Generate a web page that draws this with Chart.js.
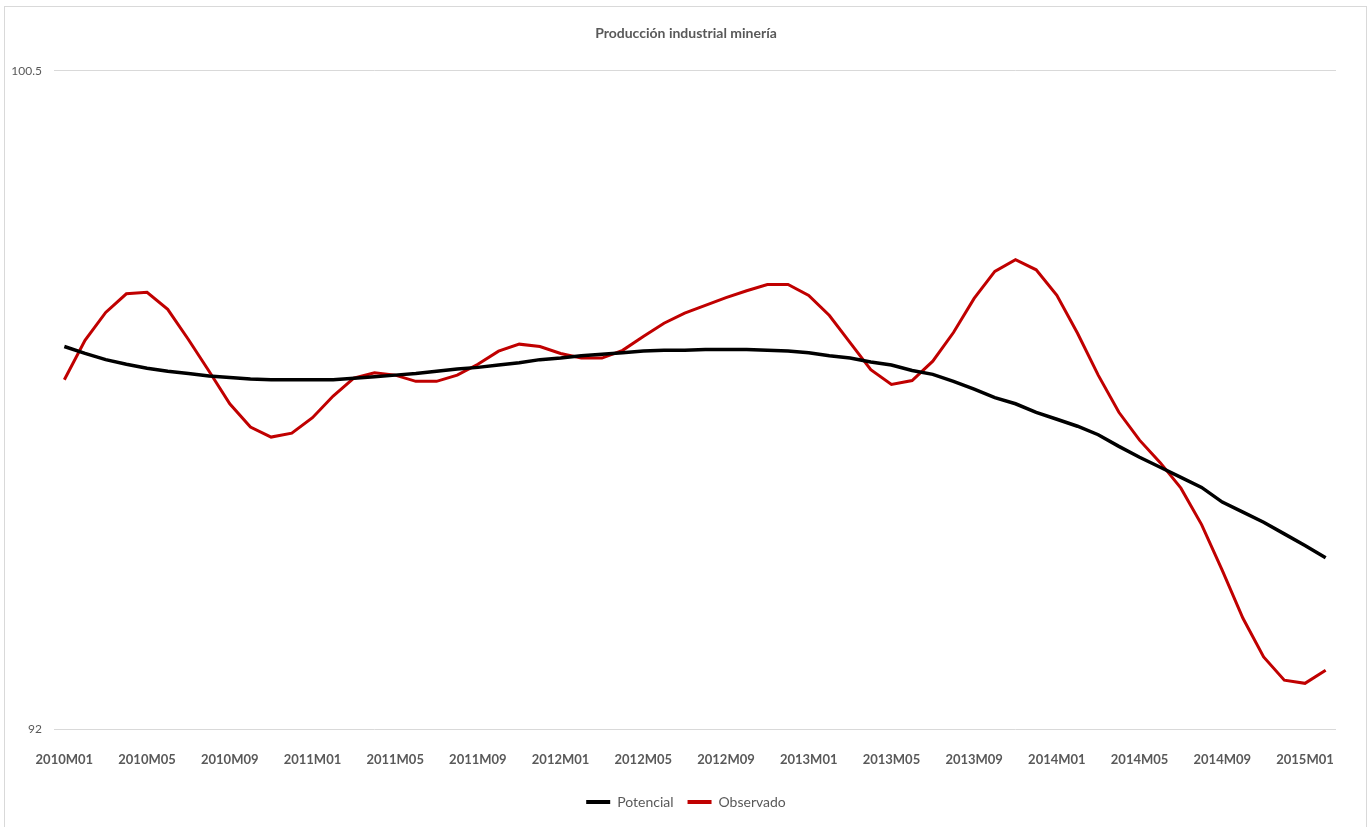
<!DOCTYPE html>
<html>
<head>
<meta charset="utf-8">
<script src="https://cdn.jsdelivr.net/npm/chart.js@4.4.0/dist/chart.umd.min.js"></script>
<style>
  html, body { margin: 0; padding: 0; background: #fff; }
  #wrap { position: relative; width: 1372px; height: 827px; }
</style>
</head>
<body>
<div id="wrap"><canvas id="chart" width="1372" height="827"></canvas></div>
<script>
// monthly categories 2010M01 .. 2015M02
var months = [];
for (var y = 2010; y <= 2015; y++) {
  for (var m = 1; m <= 12; m++) {
    months.push(y + 'M' + (m < 10 ? '0' + m : m));
  }
}
months = months.slice(0, 62);

// values
var potencial = [
  96.94, 96.85, 96.77, 96.71, 96.66, 96.62, 96.59, 96.56, 96.54, 96.52,
  96.51, 96.51, 96.51, 96.51, 96.53, 96.55, 96.57, 96.59, 96.62, 96.65,
  96.67, 96.70, 96.73, 96.77, 96.79, 96.82, 96.84, 96.86, 96.88, 96.89,
  96.89, 96.90, 96.90, 96.90, 96.89, 96.88, 96.86, 96.82, 96.79, 96.74,
  96.70, 96.63, 96.58, 96.49, 96.39, 96.28, 96.20, 96.09, 96.00, 95.91,
  95.80, 95.65, 95.51, 95.38, 95.25, 95.12, 94.93, 94.80, 94.67, 94.52,
  94.37, 94.21
];
var observado = [
  96.51, 97.02, 97.38, 97.62, 97.64, 97.42, 97.03, 96.62, 96.20, 95.90,
  95.77, 95.82, 96.02, 96.30, 96.53, 96.60, 96.57, 96.49, 96.49, 96.57,
  96.71, 96.88, 96.97, 96.94, 96.85, 96.79, 96.79, 96.89, 97.07, 97.24,
  97.37, 97.47, 97.57, 97.66, 97.74, 97.74, 97.60, 97.34, 96.99, 96.64,
  96.45, 96.50, 96.75, 97.12, 97.56, 97.91, 98.06, 97.93, 97.60, 97.11,
  96.57, 96.09, 95.73, 95.44, 95.11, 94.64, 94.05, 93.43, 92.93, 92.63,
  92.59, 92.76
];
var yMin = 92;
var yMax = 100.5;

var textColor = '#595959';
var fontFam = 'Lato, "Open Sans", Arial, sans-serif';

// light frame around the chart like the spreadsheet export
var framePlugin = {
  id: 'frame',
  beforeDraw: function (chart) {
    var ctx = chart.ctx;
    ctx.save();
    ctx.fillStyle = '#fff';
    ctx.fillRect(0, 0, chart.width, chart.height);
    ctx.strokeStyle = '#d9d9d9';
    ctx.lineWidth = 1;
    ctx.strokeRect(4.5, 6.5, 1362, 840);
    ctx.restore();
  }
};

var ctx = document.getElementById('chart').getContext('2d');
var myChart = new Chart(ctx, {
  type: 'line',
  data: {
    labels: months,
    datasets: [{
      label: 'Potencial',
      data: potencial,
      borderColor: '#000000',
      backgroundColor: '#000000',
      borderWidth: 3.5,
      pointRadius: 0,
      tension: 0,
      fill: false
    }, {
      label: 'Observado',
      data: observado,
      borderColor: '#c00000',
      backgroundColor: '#c00000',
      borderWidth: 3,
      pointRadius: 0,
      tension: 0,
      fill: false
    }]
  },
  options: {
    responsive: false,
    animation: false,
    layout: {
      padding: { left: 0, right: 0, top: 0, bottom: 8 }
    },
    scales: {
      x: {
        type: 'category',
        offset: true,
        grid: { display: false },
        border: { display: false },
        ticks: {
          autoSkip: false,
          maxRotation: 0,
          padding: 15,
          color: textColor,
          font: { family: fontFam, size: 13, weight: 'bold' },
          callback: function (val, idx) {
            return idx % 4 === 0 ? months[idx] : '';
          }
        },
        afterFit: function (scale) { scale.height = 52; }
      },
      y: {
        min: yMin,
        max: yMax,
        grid: { color: '#d9d9d9', drawTicks: false },
        border: { display: false },
        ticks: {
          stepSize: 8.5,
          padding: 12,
          color: textColor,
          font: { family: fontFam, size: 12 }
        },
        afterFit: function (scale) { scale.width = 54; }
      },
      // empty right axis only to keep the right margin
      yRight: {
        position: 'right',
        display: true,
        grid: { display: false },
        border: { display: false },
        ticks: { display: false },
        afterFit: function (scale) { scale.width = 36; }
      }
    },
    plugins: {
      title: {
        display: true,
        text: 'Producción industrial minería',
        color: textColor,
        font: { family: fontFam, size: 14, weight: 'bold' },
        padding: { top: 25, bottom: 29 }
      },
      legend: {
        position: 'bottom',
        labels: {
          boxWidth: 24,
          boxHeight: 4,
          padding: 14,
          color: textColor,
          font: { family: fontFam, size: 14 },
          generateLabels: function (chart) {
            var items = Chart.defaults.plugins.legend.labels.generateLabels(chart);
            items.forEach(function (it) { it.lineWidth = 0; });
            return items;
          }
        }
      },
      tooltip: { enabled: false }
    }
  },
  plugins: [framePlugin]
});
</script>
</body>
</html>
